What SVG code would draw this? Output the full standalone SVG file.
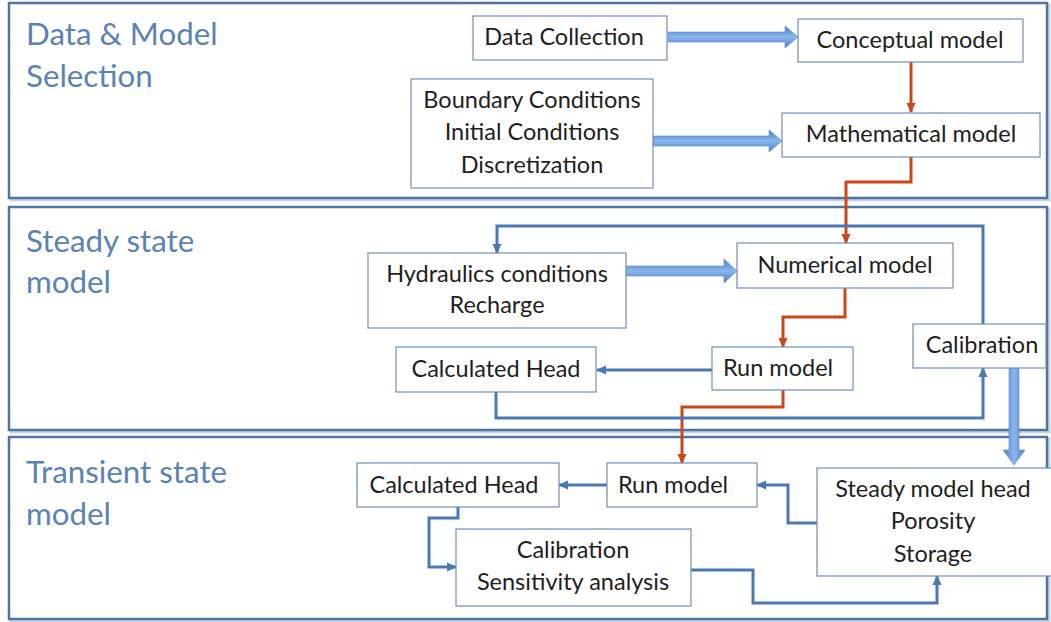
<svg xmlns="http://www.w3.org/2000/svg" width="1051" height="622" viewBox="0 0 1051 622">
<defs>
<style>
.panel{fill:#ffffff;stroke:#4f74a2;stroke-width:2.5}
.pshadow{fill:none;stroke:#c9d6e6;stroke-width:3}
.title{font-family:Lato,"Liberation Sans",sans-serif;font-size:31.3px;fill:#5a83b3}
.box{fill:#ffffff;stroke:#7090b4;stroke-width:1.2}
.lbl{font-family:Lato,"Liberation Sans",sans-serif;font-size:23.5px;fill:#1e1e1e;text-anchor:middle}
.red{fill:none;stroke:#c9471b;stroke-width:3;marker-end:url(#ar)}
.blue{fill:none;stroke:#4a78b3;stroke-width:3;marker-end:url(#ab)}
.thick{fill:url(#gh);stroke:#5b8bd0;stroke-width:0.6}
.thickv{fill:url(#gv);stroke:#5b8bd0;stroke-width:0.6}
</style>
<marker id="ar" markerUnits="userSpaceOnUse" markerWidth="10" markerHeight="10" refX="9" refY="5" orient="auto" viewBox="0 0 10 10">
<path d="M0,0.5 L10,5 L0,9.5 Z" fill="#c9471b"/>
</marker>
<marker id="ab" markerUnits="userSpaceOnUse" markerWidth="10" markerHeight="10" refX="9" refY="5" orient="auto" viewBox="0 0 10 10">
<path d="M0,0.5 L10,5 L0,9.5 Z" fill="#4a78b3"/>
</marker>
<linearGradient id="gh" x1="0" y1="0" x2="0" y2="1">
<stop offset="0" stop-color="#4c7fc4"/>
<stop offset="0.5" stop-color="#8ab6ee"/>
<stop offset="1" stop-color="#4c7fc4"/>
</linearGradient>
<linearGradient id="gv" x1="0" y1="0" x2="1" y2="0">
<stop offset="0" stop-color="#4c7fc4"/>
<stop offset="0.5" stop-color="#8ab6ee"/>
<stop offset="1" stop-color="#4c7fc4"/>
</linearGradient>
</defs>
<rect width="1051" height="622" fill="#ffffff"/>

<g id="panel-data">
<rect class="pshadow" x="11" y="5" width="1038" height="195"/>
<rect class="panel" x="9" y="3" width="1038" height="195"/>
<text class="title" x="26" y="45">Data &amp; Model</text>
<text class="title" x="26" y="87">Selection</text>
</g>
<g id="panel-steady">
<rect class="pshadow" x="11" y="209" width="1038" height="223"/>
<rect class="panel" x="9" y="207" width="1038" height="223"/>
<text class="title" x="26" y="252">Steady state</text>
<text class="title" x="26" y="293">model</text>
</g>
<g id="panel-transient">
<rect class="pshadow" x="11" y="439" width="1038" height="182"/>
<rect class="panel" x="9" y="437" width="1038" height="182"/>
<text class="title" x="26" y="483">Transient state</text>
<text class="title" x="26" y="525">model</text>
</g>

<g id="connectors">
<path class="thick" d="M668,32 H785 V26 L798,37 L785,48 V42 H668 Z"/>
<path class="thick" d="M653,136 H769 V130 L782,141 L769,152 V146 H653 Z"/>
<path class="thick" d="M626,266 H724 V259 L737,271 L724,283 V276 H626 Z"/>
<path class="thickv" d="M1009,368 V450 H1003 L1014,465 L1025,450 H1019 V368 Z"/>
<path class="red" d="M911,62 V112"/>
<path class="red" d="M911,157 V182 H846 V243"/>
<path class="red" d="M845,288 V317 H783 V347"/>
<path class="red" d="M783,390 V407 H682 V463"/>
<path class="blue" d="M712,370 H597"/>
<path class="blue" d="M496,392 V418 H983 V368"/>
<path class="blue" d="M983,324 V226 H497 V253"/>
<path class="blue" d="M607,485 H559"/>
<path class="blue" d="M458,507 V518 H429 V567 H456"/>
<path class="blue" d="M817,523 H788 V485 H757"/>
<path class="blue" d="M691,570 H753 V603 H937 V576"/>
</g>

<g id="n-data-collection">
<rect class="box" x="473" y="16" width="194" height="44"/>
<text class="lbl" x="564" y="45">Data Collection</text>
</g>
<g id="n-conceptual">
<rect class="box" x="798" y="19" width="225" height="43"/>
<text class="lbl" x="910" y="48">Conceptual model</text>
</g>
<g id="n-boundary">
<rect class="box" x="411" y="79" width="242" height="109"/>
<text class="lbl" x="532" y="108">Boundary Conditions</text>
<text class="lbl" x="532" y="140">Initial Conditions</text>
<text class="lbl" x="532" y="173">Discretization</text>
</g>
<g id="n-mathematical">
<rect class="box" x="782" y="113" width="258" height="44"/>
<text class="lbl" x="911" y="142">Mathematical model</text>
</g>
<g id="n-hydraulics">
<rect class="box" x="368" y="253" width="258" height="75"/>
<text class="lbl" x="497" y="282">Hydraulics conditions</text>
<text class="lbl" x="497" y="313">Recharge</text>
</g>
<g id="n-numerical">
<rect class="box" x="737" y="243" width="216" height="45"/>
<text class="lbl" x="845" y="273">Numerical model</text>
</g>
<g id="n-calibration">
<rect class="box" x="913" y="324" width="133" height="44"/>
<text class="lbl" x="982" y="353">Calibration</text>
</g>
<g id="n-calc-head-steady">
<rect class="box" x="396" y="347" width="200" height="45"/>
<text class="lbl" x="496" y="377">Calculated Head</text>
</g>
<g id="n-run-steady">
<rect class="box" x="712" y="347" width="141" height="43"/>
<text class="lbl" x="778" y="376">Run model</text>
</g>
<g id="n-calc-head-transient">
<rect class="box" x="357" y="463" width="202" height="44"/>
<text class="lbl" x="454" y="493">Calculated Head</text>
</g>
<g id="n-run-transient">
<rect class="box" x="607" y="463" width="150" height="44"/>
<text class="lbl" x="673" y="493">Run model</text>
</g>
<g id="n-steady-head">
<rect class="box" x="817" y="468" width="240" height="108"/>
<text class="lbl" x="933" y="497">Steady model head</text>
<text class="lbl" x="933" y="529">Porosity</text>
<text class="lbl" x="933" y="562">Storage</text>
</g>
<g id="n-calib-sens">
<rect class="box" x="456" y="529" width="235" height="77"/>
<text class="lbl" x="573" y="558">Calibration</text>
<text class="lbl" x="573" y="590">Sensitivity analysis</text>
</g>
</svg>
